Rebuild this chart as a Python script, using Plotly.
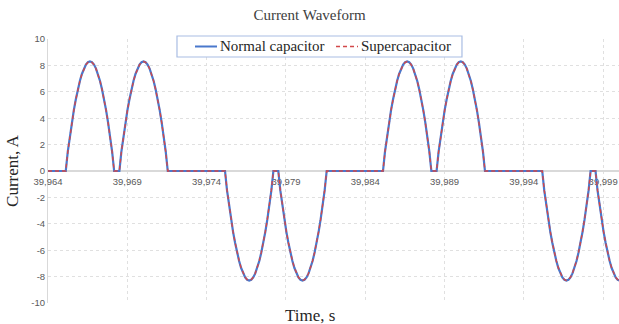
import plotly.graph_objects as go

# ---- data ----
# start time (s) of each current pulse and its polarity
PULSE_STARTS = [39.96512, 39.96850, 39.97516, 39.97852, 39.98512, 39.98850, 39.99516, 39.99852]
PULSE_SIGNS = [1, 1, -1, -1, 1, 1, -1, -1]
PULSE_WIDTH = 0.00305  # s
# current magnitude (A) read across one pulse at equal fractions of its width
PULSE_PROFILE = [0, 1.47, 2.63, 3.67, 4.61, 5.44, 6.18, 6.82, 7.35, 7.76, 8.06, 8.24, 8.30,
                 8.24, 8.06, 7.76, 7.35, 6.82, 6.18, 5.44, 4.61, 3.67, 2.63, 1.47, 0]
# small differences between both circuits are not visible; same readings
SUPER_PROFILE = [0, 1.45, 2.61, 3.66, 4.60, 5.43, 6.17, 6.81, 7.34, 7.75, 8.05, 8.23, 8.29,
                 8.23, 8.05, 7.75, 7.34, 6.81, 6.17, 5.43, 4.60, 3.66, 2.61, 1.45, 0]
SERIES_NAMES = ["Normal capacitor", "Supercapacitor"]
T_START = 39.964
X_TICKS = [39.964, 39.969, 39.974, 39.979, 39.984, 39.989, 39.994, 39.999]
Y_TICKS = [-10, -8, -6, -4, -2, 0, 2, 4, 6, 8, 10]
Y_TICK_LABELS = ["-10", "-8", "-6", "-4", "-2", "0", "2", "4", "6", "8", "10"]


def build(profile):
    t = [T_START]
    i = [0]
    n = len(profile) - 1
    for s, sg in zip(PULSE_STARTS, PULSE_SIGNS):
        for k, v in enumerate(profile):
            t.append(s + PULSE_WIDTH * k / n)
            i.append(sg * v)
    return t, i


t1, i1 = build(PULSE_PROFILE)
t2, i2 = build(SUPER_PROFILE)

SERIF = "Liberation Serif, Times New Roman, serif"
SANS = "Liberation Sans, Arial, sans-serif"
BLUE = "#4A78CC"
RED = "#D2484A"

fig = go.Figure()
fig.add_trace(go.Scatter(x=t1, y=i1, mode="lines", name=SERIES_NAMES[0],
                         line=dict(color=BLUE, width=2.2), showlegend=False))
fig.add_trace(go.Scatter(x=t2, y=i2, mode="lines", name=SERIES_NAMES[1],
                         line=dict(color=RED, width=1.4, dash="4px,3px"), showlegend=False))

# compact legend box (matching the reference's tight legend)
shapes = [
    dict(type="rect", xref="paper", yref="paper", x0=0.2259, x1=0.7250, y0=0.9318, y1=1.0114,
         line=dict(color="#A9BDE3", width=1.2), fillcolor="white", layer="above"),
    dict(type="line", xref="paper", yref="paper", x0=0.2574, x1=0.2960, y0=0.9716, y1=0.9716,
         line=dict(color=BLUE, width=2), layer="above"),
    dict(type="line", xref="paper", yref="paper", x0=0.5044, x1=0.5429, y0=0.9716, y1=0.9716,
         line=dict(color=RED, width=1.4, dash="4px,3px"), layer="above"),
]
annotations = [
    dict(text=SERIES_NAMES[0], xref="paper", yref="paper", x=0.2977, y=0.9716,
         xanchor="left", yanchor="middle", showarrow=False,
         font=dict(family=SERIF, size=15, color="#262626")),
    dict(text=SERIES_NAMES[1], xref="paper", yref="paper", x=0.5447, y=0.9716,
         xanchor="left", yanchor="middle", showarrow=False,
         font=dict(family=SERIF, size=15, color="#262626")),
    dict(text="Time, s", xref="paper", yref="paper", x=0.459, y=-0.049,
         xanchor="center", yanchor="middle", showarrow=False,
         font=dict(family=SERIF, size=17, color="#262626")),
]

fig.update_layout(
    width=619, height=324,
    margin=dict(l=48, r=0, t=39, b=21),
    paper_bgcolor="white", plot_bgcolor="white",
    separators=",.",
    showlegend=False,
    title=dict(text="Current Waveform", x=0.5, xref="container", y=0.955, yanchor="middle",
               font=dict(family=SERIF, size=15, color="#404040")),
    xaxis=dict(range=[39.964, 40.000], tickvals=X_TICKS, tickformat=".3f",
               anchor="free", position=0.5, layer="below traces",
               showgrid=True, gridcolor="#E0E0E0", griddash="3px,3px", gridwidth=1,
               showline=True, linecolor="#D9D9D9", linewidth=1.5,
               ticks="", zeroline=False, ticklabelstandoff=2,
               tickfont=dict(family=SANS, size=9.5, color="#595959")),
    yaxis=dict(range=[-10, 10], tickvals=Y_TICKS, ticktext=Y_TICK_LABELS,
               layer="below traces",
               showgrid=True, gridcolor="#E0E0E0", griddash="3px,3px", gridwidth=1,
               showline=True, linecolor="#D9D9D9", linewidth=1,
               zeroline=False, ticks="",
               tickfont=dict(family=SANS, size=9.5, color="#595959"),
               title=dict(text="Current, A", standoff=8,
                          font=dict(family=SERIF, size=17, color="#262626"))),
    shapes=shapes,
    annotations=annotations,
)

fig.write_html("out.html")
